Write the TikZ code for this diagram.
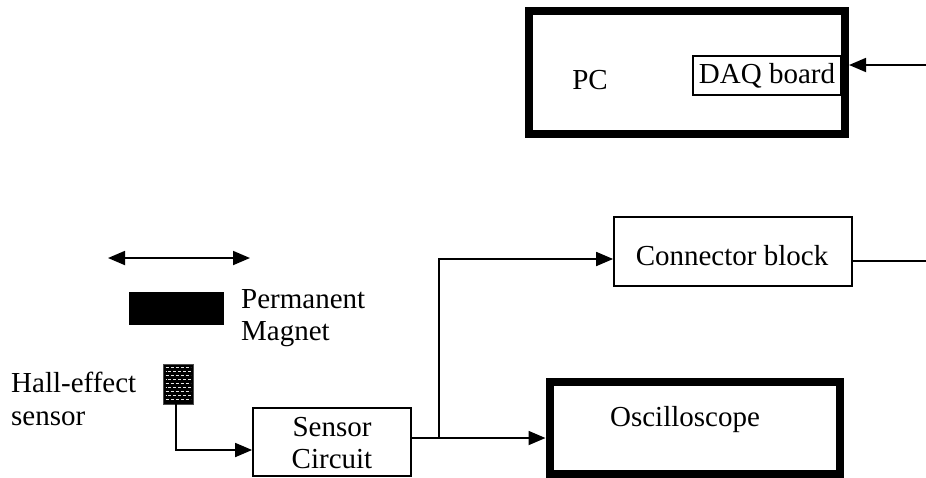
\documentclass[tikz,border=0pt]{standalone}
\usepackage{fontspec}
\setmainfont{Liberation Serif}
\usetikzlibrary{arrows.meta}
\begin{document}
\begin{tikzpicture}[x=1pt,y=-1pt,
  font=\fontsize{29}{32.5}\selectfont,
  thinbox/.style={draw, line width=1.8pt, inner sep=0pt, rectangle},
  thickbox/.style={draw, line width=8pt, inner sep=0pt, rectangle},
  txt/.style={inner sep=0pt, align=center},
  conn/.style={line width=1.8pt},
  tip/.tip={Triangle[length=17pt,width=14pt]},
  arr/.style={conn, -tip},
  darr/.style={conn, tip-tip}
]
\useasboundingbox (0,0) rectangle (926,477);
% PC
\node[thinbox, minimum width=148pt, minimum height=39pt] (daq) at (767,75.5) {};
\node[thickbox, minimum width=316pt, minimum height=122.5pt] (pc) at (687,72.25) {};
\node[txt] (pclbl) at (590,80) {PC};
\node[txt] (daqlbl) at (767,76) {DAQ board};
\coordinate (pcin) at (926,65);
\draw[arr] (pcin) -- (pcin -| pc.east);
% motion arrow and magnet
\coordinate (ml) at (108,258);
\coordinate (mr) at (250,258);
\draw[darr] (ml) -- (mr);
\node[rectangle, fill=black, inner sep=0pt, minimum width=95pt, minimum height=33pt] (mag) at (176.5,308.5) {};
\node[txt, anchor=west, align=left] (maglbl) at (241,318) {Permanent\\Magnet};
% Hall sensor
\node[rectangle, fill=black, draw=black!70, line width=0.8pt, inner sep=0pt, minimum width=30pt, minimum height=40pt] (hall) at (178,384) {};
\foreach \i in {0,...,8}{
  \pgfmathsetmacro\ph{mod(\i,2)*2.5}
  \draw[white!90!black, line width=1.3pt, dash pattern=on 3pt off 2pt, dash phase=\ph]
    (165.5,{367.5+4*\i}) -- (190.5,{367.5+4*\i});
}
\node[txt, anchor=west, align=left] (halllbl) at (11,399) {Hall-effect\\sensor};
% Sensor circuit
\node[thinbox, minimum width=158pt, minimum height=68pt] (sc) at (332,442) {};
\node[txt] (sclbl) at (332,443) {Sensor\\Circuit};
% Connector block
\node[thinbox, minimum width=238pt, minimum height=69pt] (cb) at (733,251.5) {};
\node[txt] (cblbl) at (732,256) {Connector block};
% Oscilloscope
\node[thickbox, minimum width=290pt, minimum height=92pt] (osc) at (694.5,428) {};
\node[txt] (osclbl) at (685,420) {Oscilloscope};
% connections
\coordinate (h1) at (176,450);
\draw[arr] (hall.south -| h1) -- (h1) -- (h1 -| sc.west);
\coordinate (b) at (439,438);
\coordinate (b2) at (439,259);
\draw[conn] (b -| sc.east) -- (b);
\draw[arr] (b) -- (b -| osc.west);
\draw[arr] (b) -- (b2) -- (b2 -| cb.west);
\coordinate (cbout) at (926,261);
\draw[conn] (cbout -| cb.east) -- (cbout);
\end{tikzpicture}
\end{document}
